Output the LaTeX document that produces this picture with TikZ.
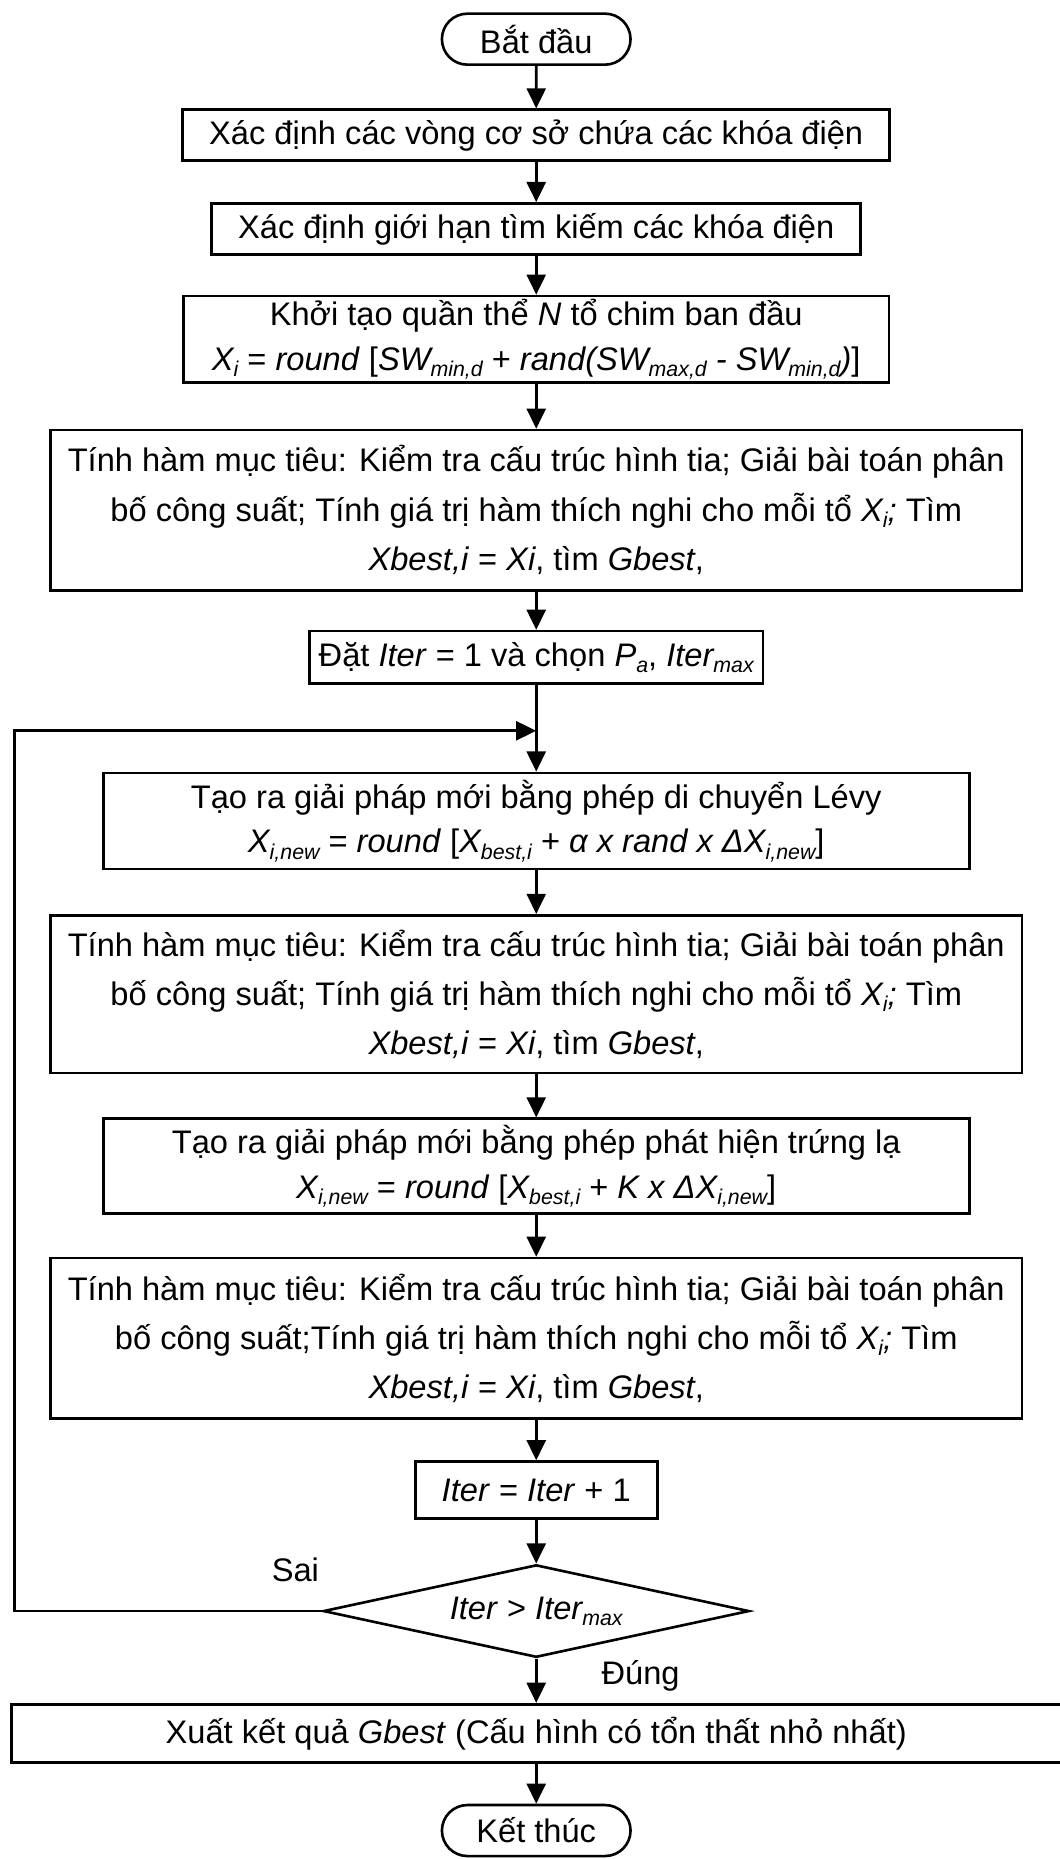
\documentclass[tikz,border=0pt]{standalone}
\usepackage{fontspec}
\setmainfont{Liberation Sans}
\usetikzlibrary{positioning,shapes.geometric,shapes.misc,arrows.meta}
\newcommand\ix[1]{\raisebox{-0.35ex}{\fontsize{18}{18}\selectfont #1}}

\begin{document}
\begin{tikzpicture}[x=1pt,y=1pt,on grid,line width=2.2pt,
    >={Triangle[length=17pt,width=16pt]},
    every node/.style={font=\fontsize{27.5}{41.5}\selectfont,align=center,inner sep=2pt},
    box/.style={draw,rectangle,minimum height=43pt},
    term/.style={draw,rounded rectangle,minimum width=163pt,minimum height=43pt},
    test/.style={draw,diamond,aspect=4.6,inner sep=0pt,minimum width=359pt,minimum height=78pt}]
    \useasboundingbox (0,0) rectangle (893,-1567);
    \node[term] (start) at (452,-33) {Bắt đầu};
    \node[box,minimum width=596pt] (loops) [below=81pt of start] {Xác định các vòng cơ sở chứa các khóa điện};
    \node[box,minimum width=547pt] (limits) [below=79pt of loops] {Xác định giới hạn tìm kiếm các khóa điện};
    \node[box,minimum width=595pt,minimum height=73pt] (init) [below=93pt of limits]
        {Khởi tạo quần thể \textit{N} tổ chim ban đầu\\[-4pt]
         \textit{X\ix{i}} = \textit{round} [\textit{SW\ix{min,d}} + \textit{rand(SW\ix{max,d} - SW\ix{min,d})}]};
    \node[box,minimum width=819pt,minimum height=135pt] (eval1) [below=144pt of init]
        {Tính hàm mục tiêu: Kiểm tra cấu trúc hình tia; Giải bài toán phân\\
         bố công suất; Tính giá trị hàm thích nghi cho mỗi tổ \textit{X\ix{i};} Tìm\\
         \textit{Xbest,i} = \textit{Xi}, tìm \textit{Gbest},};
    \node[box,minimum width=382pt,minimum height=44pt] (set) [below=124pt of eval1]
        {Đặt \textit{Iter} = 1 và chọn \textit{P\ix{a}}, \textit{Iter\ix{max}}};
    \node[coordinate,below=62pt of set] (join) {};
    \node[box,minimum width=730pt,minimum height=81pt] (levy) [below=138pt of set]
        {Tạo ra giải pháp mới bằng phép di chuyển Lévy\\[-4pt]
         \textit{X\ix{i,new}} = \textit{round} [\textit{X\ix{best,i}} + \textit{α x rand x ΔX\ix{i,new}}]};
    \node[box,minimum width=819pt,minimum height=133pt] (eval2) [below=146pt of levy]
        {Tính hàm mục tiêu: Kiểm tra cấu trúc hình tia; Giải bài toán phân\\
         bố công suất; Tính giá trị hàm thích nghi cho mỗi tổ \textit{X\ix{i};} Tìm\\
         \textit{Xbest,i} = \textit{Xi}, tìm \textit{Gbest},};
    \node[box,minimum width=730pt,minimum height=80pt] (egg) [below=145pt of eval2]
        {Tạo ra giải pháp mới bằng phép phát hiện trứng lạ\\[-4pt]
         \textit{X\ix{i,new}} = \textit{round} [\textit{X\ix{best,i}} + \textit{K x ΔX\ix{i,new}}]};
    \node[box,minimum width=819pt,minimum height=135pt] (eval3) [below=145pt of egg]
        {Tính hàm mục tiêu: Kiểm tra cấu trúc hình tia; Giải bài toán phân\\
         bố công suất;Tính giá trị hàm thích nghi cho mỗi tổ \textit{X\ix{i};} Tìm\\
         \textit{Xbest,i} = \textit{Xi}, tìm \textit{Gbest},};
    \node[box,minimum width=204pt,minimum height=48pt] (step) [below=128pt of eval3]
        {\textit{Iter} = \textit{Iter} + 1};
    \node[test] (dec) [below=102pt of step] {\textit{Iter} > \textit{Iter\ix{max}}};
    \node[box,minimum width=885pt,minimum height=49pt] (out) [below=103pt of dec]
        {Xuất kết quả \textit{Gbest} (Cấu hình có tổn thất nhỏ nhất)};
    \node[term] (stop) [below=82pt of out] {Kết thúc};
    \node (no) [above left=35pt and 203pt of dec] {Sai};
    \node (yes) [below right=55pt and 88pt of dec] {Đúng};
        \path[->]
        (start) edge (loops)
        (loops) edge (limits)
        (limits) edge (init)
        (init) edge (eval1)
        (eval1) edge (set)
        (set) edge (levy)
        (levy) edge (eval2)
        (eval2) edge (egg)
        (egg) edge (eval3)
        (eval3) edge (step)
        (step) edge (dec)
        (dec) edge (out)
        (out) edge (stop);
    \draw[->] (dec.west) -- ++(-259pt,0) |- (join);
\end{tikzpicture}
\end{document}
